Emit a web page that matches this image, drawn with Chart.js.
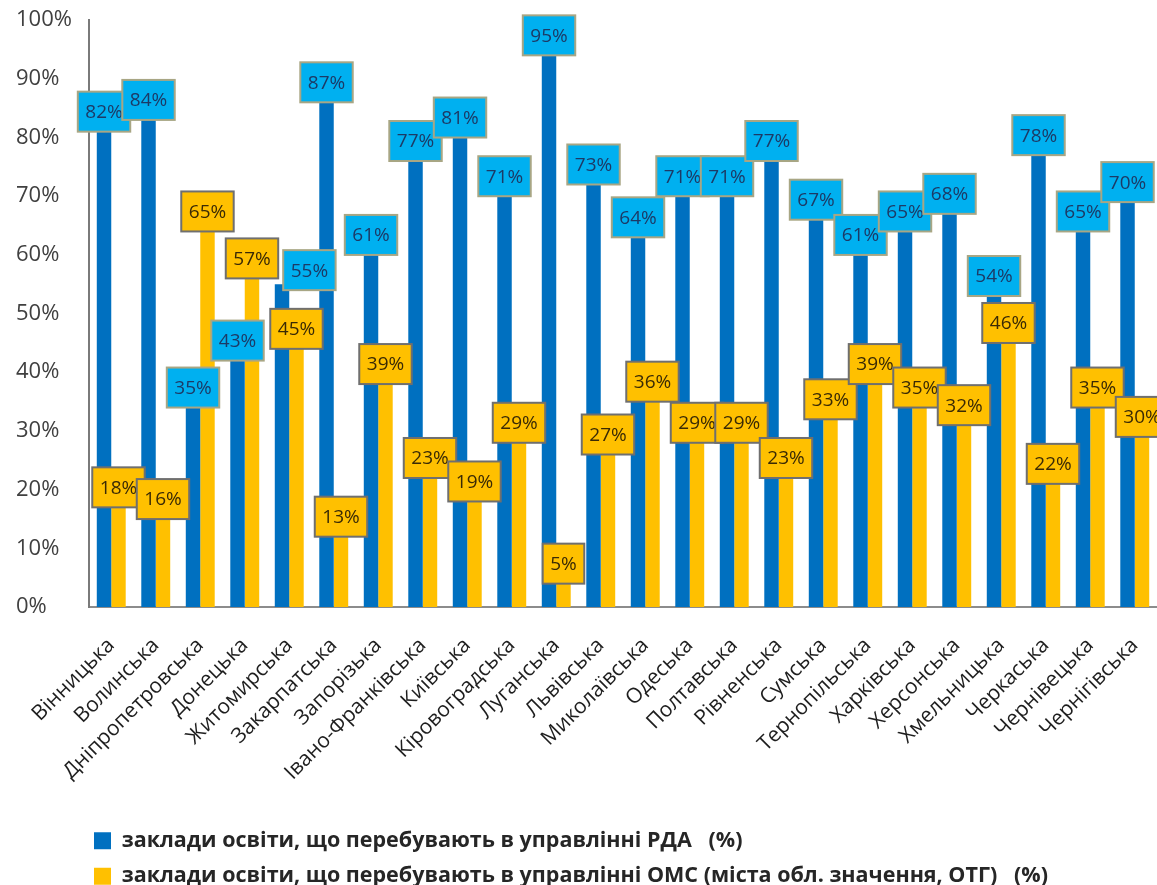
<!DOCTYPE html>
<html lang="uk">
<head>
<meta charset="utf-8">
<title>Заклади освіти за формою управління</title>
<script src="https://cdn.jsdelivr.net/npm/chart.js@4.4.1/dist/chart.umd.min.js"></script>
<style>
  html, body { margin: 0; padding: 0; background: #fff; }
</style>
</head>
<body>
<canvas id="eduChart" width="1157" height="885"></canvas>
<script>
const regions = ['Вінницька', 'Волинська', 'Дніпропетровська', 'Донецька', 'Житомирська',
  'Закарпатська', 'Запорізька', 'Івано-Франківська', 'Київська', 'Кіровоградська',
  'Луганська', 'Львівська', 'Миколаївська', 'Одеська', 'Полтавська', 'Рівненська',
  'Сумська', 'Тернопільська', 'Харківська', 'Херсонська', 'Хмельницька', 'Черкаська',
  'Чернівецька', 'Чернігівська'];
const rdaShare = [82, 84, 35, 43, 55, 87, 61, 77, 81, 71, 95, 73, 64, 71, 71, 77, 67, 61, 65, 68, 54, 78, 65, 70];
const omsShare = [18, 16, 65, 57, 45, 13, 39, 23, 19, 29, 5, 27, 36, 29, 29, 23, 33, 39, 35, 32, 46, 22, 35, 30];
const seriesNames = [
  'заклади освіти, що перебувають в управлінні РДА   (%)',
  'заклади освіти, що перебувають в управлінні ОМС (міста обл. значення, ОТГ)   (%)'
];

// label box look per dataset
const labelFill = ['#00b0f0', '#ffc000'];
const labelEdge = ['#a8a684', '#6f6f6f'];
const labelInk = ['#1c3a66', '#3a2a05'];

function overlaps(a, b) {
  return a.x < b.x + b.w && b.x < a.x + a.w && a.y < b.y + b.h && b.y < a.y + a.h;
}

// boxed value labels, drawn over the bars like excel callouts
const boxLabels = {
  id: 'boxLabels',
  afterDatasetsDraw(chart) {
    const ctx = chart.ctx;
    ctx.save();
    ctx.font = '19px "Open Sans"';
    ctx.textAlign = 'center';
    ctx.textBaseline = 'middle';
    const boxes = chart.data.datasets.map((ds, i) =>
      chart.getDatasetMeta(i).data.map((bar, j) => {
        const txt = ds.data[j] + '%';
        const w = ctx.measureText(txt).width + 15;
        const h = 40;
        return { txt, w, h, x: bar.x - w / 2, y: bar.y - 14 - h / 2 };
      }));
    // blue label bumping into the yellow one of the previous region moves right
    boxes[0].forEach((b, j) => {
      const prev = j > 0 ? boxes[1][j - 1] : null;
      if (prev && overlaps(b, prev)) b.x = prev.x + prev.w + 5;
    });
    boxes.forEach((list, i) => {
      list.forEach(b => {
        ctx.fillStyle = labelFill[i];
        ctx.fillRect(b.x, b.y, b.w, b.h);
        ctx.lineWidth = 2;
        ctx.strokeStyle = labelEdge[i];
        ctx.strokeRect(b.x, b.y, b.w, b.h);
        ctx.fillStyle = labelInk[i];
        ctx.fillText(b.txt, b.x + b.w / 2, b.y + b.h / 2 + 1);
      });
    });
    ctx.restore();
  }
};

// legend sits under the axis labels, indented like the original
const legendShift = {
  id: 'legendShift',
  afterLayout(chart) {
    chart.legend.left = 80;
    chart.legend.top = 816;
  }
};

new Chart(document.getElementById('eduChart'), {
  type: 'bar',
  data: {
    labels: regions,
    datasets: [{
      label: seriesNames[0],
      data: rdaShare,
      backgroundColor: '#0070c0',
      borderWidth: 0,
    }, {
      label: seriesNames[1],
      data: omsShare,
      backgroundColor: '#ffc000',
      borderWidth: 0,
    }]
  },
  options: {
    responsive: false,
    animation: false,
    devicePixelRatio: 1,
    categoryPercentage: 0.65,
    barPercentage: 1,
    layout: {
      padding: { top: 20, left: 16, right: 0, bottom: 0 }
    },
    plugins: {
      tooltip: { enabled: false },
      legend: {
        position: 'bottom',
        align: 'start',
        labels: {
          color: '#262626',
          font: { family: 'Open Sans', size: 21.5, weight: 'bold' },
          boxWidth: 17,
          boxHeight: 17,
          padding: 14,
        }
      }
    },
    scales: {
      x: {
        grid: { display: false, tickLength: 22 },
        border: { color: '#8c8c8c', width: 2 },
        ticks: {
          autoSkip: false,
          minRotation: 45,
          maxRotation: 45,
          padding: 4,
          color: '#1e1e1e',
          font: { family: 'Open Sans', size: 21 },
        },
        afterFit(scale) {
          scale.height = scale.chart.height - scale.chart.legend.height - 607;
          scale.paddingRight = 0;
        }
      },
      y: {
        min: 0,
        max: 100,
        grid: { display: false },
        border: { color: '#7a7a7a', width: 2 },
        ticks: {
          stepSize: 10,
          crossAlign: 'far',
          color: '#404040',
          font: { family: 'Open Sans', size: 22 },
          callback: v => v + '%',
        },
        afterFit(scale) {
          scale.width = 73;
        }
      }
    }
  },
  plugins: [boxLabels, legendShift]
});
</script>
</body>
</html>
